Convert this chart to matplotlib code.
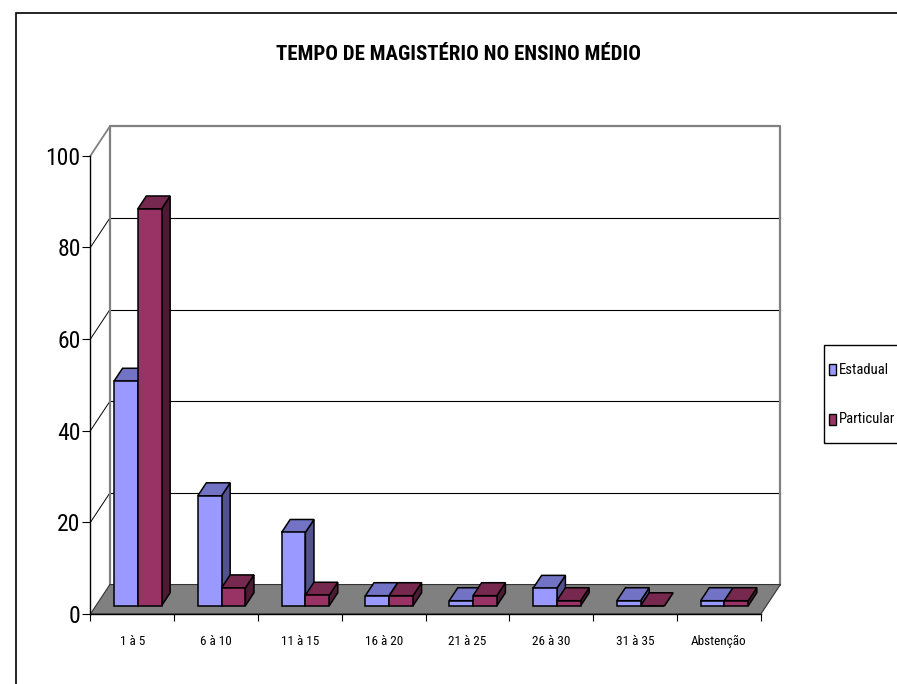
import numpy as np
import matplotlib
matplotlib.use("Agg")
import matplotlib.pyplot as plt
from matplotlib.patches import Polygon, Rectangle

plt.rcParams['font.family'] = ['Roboto Condensed', 'DejaVu Sans Condensed',
                               'Liberation Sans Narrow', 'Liberation Sans', 'DejaVu Sans']

title = "TEMPO DE MAGISTÉRIO NO ENSINO MÉDIO"
categories = ["1 à 5", "6 à 10", "11 à 15", "16 à 20", "21 à 25", "26 à 30", "31 à 35", "Abstenção"]
series_names = ["Estadual", "Particular"]
estadual = [49, 24, 16, 2.2, 1.1, 3.8, 1.1, 1.1]
particular = [86.6, 3.9, 2.3, 2.2, 2.2, 1.1, 0, 1.1]
y_ticks = [0, 20, 40, 60, 80, 100]

# face colours: front, top, side
face_colors = [
    ("#9999FF", "#7373C6", "#52528F"),
    ("#993366", "#77284F", "#4C1A33"),
]

W, H = 897, 684
fig = plt.figure(figsize=(W / 100, H / 100), dpi=100)
ax = fig.add_axes([90.4 / W, (H - 614) / H, 670.5 / W, 458.2 / H])
n = len(categories)
ax.set_xlim(0, n)
ax.set_ylim(0, 100)
ax.patch.set_visible(False)

# oblique depth of the plot box, in data units
DX, DY = 0.2327, 6.43
F0, F1 = 0.28, 0.72          # bar front / back depth fractions
GAP, BW = 0.216, 0.284       # gap before group, bar width (category units)

# back wall
ax.add_patch(Polygon([(DX, DY), (n + DX, DY), (n + DX, 100 + DY), (DX, 100 + DY)],
                     closed=True, facecolor="white", edgecolor="none",
                     clip_on=False, zorder=0.5))
for v in y_ticks[1:-1]:
    ax.plot([DX, n + DX], [v + DY, v + DY], color="black", lw=0.8,
            clip_on=False, zorder=0.8)
    ax.plot([0, DX], [v, v + DY], color="black", lw=0.7, clip_on=False, zorder=0.8)
ax.plot([0, DX], [100, 100 + DY], color="#808080", lw=1.3, clip_on=False, zorder=0.8)
ax.plot([DX, DX, n + DX, n + DX], [DY, 100 + DY, 100 + DY, DY],
        color="#808080", lw=1.6, clip_on=False, zorder=0.9)

# floor
ax.add_patch(Polygon([(0, 0), (n, 0), (n + DX, DY), (DX, DY)], closed=True,
                     facecolor="#808080", edgecolor="#333333", lw=0.8,
                     clip_on=False, zorder=1))

# 3-D bars
ddx, ddy = (F1 - F0) * DX, (F1 - F0) * DY
for i in range(n):
    for s, vals in enumerate([estadual, particular]):
        v = vals[i]
        front_c, top_c, side_c = face_colors[s]
        x0 = i + GAP + s * BW + F0 * DX
        y0 = F0 * DY
        x1 = x0 + BW
        kw = dict(closed=True, edgecolor="black", lw=1.1, clip_on=False,
                  joinstyle="miter", zorder=3 + i * 0.01 + s * 0.001)
        ax.add_patch(Polygon([(x1, y0), (x1 + ddx, y0 + ddy), (x1 + ddx, y0 + v + ddy),
                              (x1, y0 + v)], facecolor=side_c, **kw))
        ax.add_patch(Polygon([(x0, y0 + v), (x1, y0 + v), (x1 + ddx, y0 + v + ddy),
                              (x0 + ddx, y0 + v + ddy)], facecolor=top_c, **kw))
        ax.add_patch(Polygon([(x0, y0), (x1, y0), (x1, y0 + v), (x0, y0 + v)],
                             facecolor=front_c, **kw))

# axes
for side in ("top", "right"):
    ax.spines[side].set_visible(False)
for side in ("left", "bottom"):
    ax.spines[side].set_color("black")
    ax.spines[side].set_linewidth(1.0)
    ax.spines[side].set_zorder(5)
ax.set_yticks(y_ticks)
ax.tick_params(axis="y", direction="out", length=5.5, width=0.8, pad=1.5, labelsize=17)
ax.set_xticks(np.arange(n + 1))
ax.set_xticklabels([])
ax.set_xticks(np.arange(n) + 0.5, minor=True)
ax.set_xticklabels(categories, minor=True, fontsize=9.5)
ax.tick_params(axis="x", which="major", direction="out", length=5, width=0.8)
ax.tick_params(axis="x", which="minor", length=0, pad=15)

# title
fig.text(458 / W, 1 - 54 / H, title, ha="center", va="center",
         fontsize=15, fontweight="bold")

# chart area border
fig.add_artist(Rectangle((16 / W, -0.1), 1.2, 1 - 13 / H + 0.1,
                         transform=fig.transFigure, fill=False,
                         edgecolor="black", lw=1.2))

# legend
fig.add_artist(Rectangle((824 / W, 1 - 443 / H), 0.2, 98 / H,
                         transform=fig.transFigure, facecolor="white",
                         edgecolor="black", lw=1.0))
for k, (name, y_c) in enumerate(zip(series_names, [370, 419])):
    fig.add_artist(Rectangle((829 / W, 1 - (y_c + 5.5) / H), 7 / W, 11 / H,
                             transform=fig.transFigure,
                             facecolor=face_colors[k][0], edgecolor="black", lw=1.0))
    fig.text(839 / W, 1 - y_c / H, name, ha="left", va="center", fontsize=10.5)

fig.savefig("out.png", dpi=100)
